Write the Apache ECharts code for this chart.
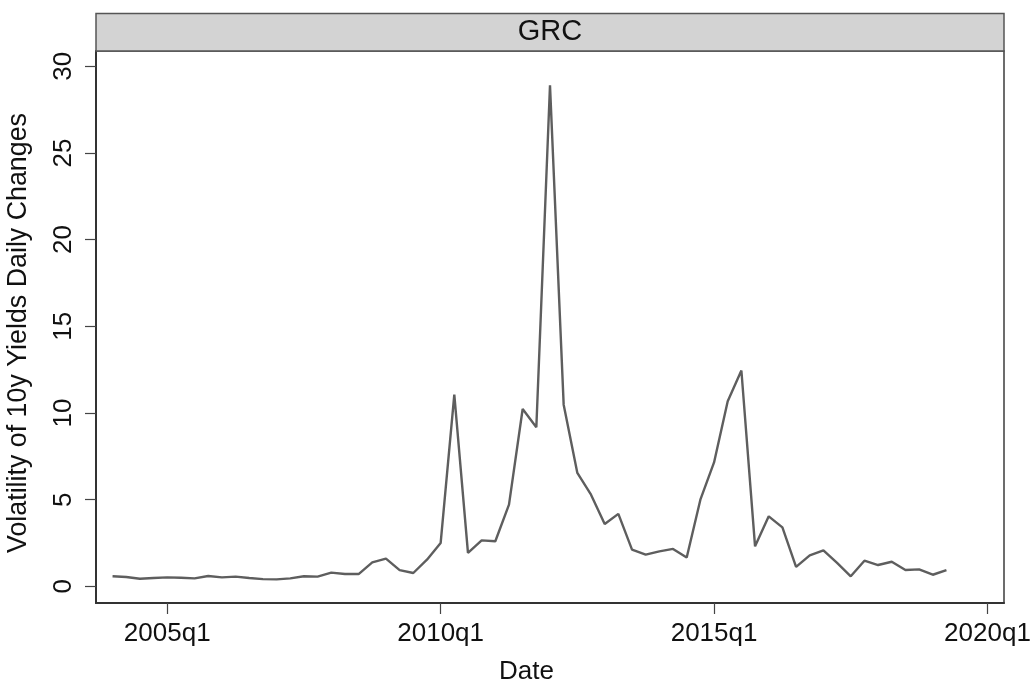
<!DOCTYPE html>
<html>
<head>
<meta charset="utf-8">
<style>
  html, body { margin: 0; padding: 0; background: #ffffff; }
  #chart { width: 1032px; height: 682px; }
</style>
<script src="https://cdn.jsdelivr.net/npm/echarts@6/dist/echarts.min.js"></script>
</head>
<body>
<div id="chart"></div>
<script>
// Quarterly periods (Stata-style labels)
const periods = [
  '2004q1','2004q2','2004q3','2004q4','2005q1','2005q2','2005q3','2005q4',
  '2006q1','2006q2','2006q3','2006q4','2007q1','2007q2','2007q3','2007q4',
  '2008q1','2008q2','2008q3','2008q4','2009q1','2009q2','2009q3','2009q4',
  '2010q1','2010q2','2010q3','2010q4','2011q1','2011q2','2011q3','2011q4',
  '2012q1','2012q2','2012q3','2012q4','2013q1','2013q2','2013q3','2013q4',
  '2014q1','2014q2','2014q3','2014q4','2015q1','2015q2','2015q3','2015q4',
  '2016q1','2016q2','2016q3','2016q4','2017q1','2017q2','2017q3','2017q4',
  '2018q1','2018q2','2018q3','2018q4','2019q1','2019q2'
];

// Volatility of 10y yields daily changes, Greece
const volatility = [
  0.58, 0.54, 0.44, 0.48, 0.52, 0.50, 0.46, 0.60,
  0.52, 0.56, 0.48, 0.42, 0.40, 0.46, 0.58, 0.56,
  0.79, 0.71, 0.71, 1.38, 1.60, 0.94, 0.77, 1.54,
  2.50, 11.06, 1.93, 2.65, 2.60, 4.71, 10.23, 9.18,
  28.90, 10.48, 6.54, 5.29, 3.60, 4.18, 2.12, 1.83,
  2.02, 2.16, 1.66, 5.00, 7.15, 10.68, 12.45, 2.31,
  4.04, 3.40, 1.12, 1.79, 2.08, 1.35, 0.58, 1.48,
  1.23, 1.42, 0.94, 0.98, 0.67, 0.94
];

// Axis ticks
const xTicks = ['2005q1', '2010q1', '2015q1', '2020q1'];
const yTicks = [0, 5, 10, 15, 20, 25, 30];

const panelTitle = 'GRC';
const xTitle = 'Date';
const yTitle = 'Volatility of 10y Yields Daily Changes';

// Stata quarterly date: quarters since 1960q1
function toTq(s) {
  const m = s.match(/^(\d{4})q(\d)$/);
  return (parseInt(m[1], 10) - 1960) * 4 + (parseInt(m[2], 10) - 1);
}
function fromTq(v) {
  const y = 1960 + Math.floor(v / 4);
  const q = ((v % 4) + 4) % 4 + 1;
  return y + 'q' + q;
}

const seriesData = periods.map((p, i) => [toTq(p), volatility[i]]);
const xTickValues = xTicks.map(toTq);

const FONT = '"Liberation Sans", Arial, sans-serif';
const GRID = { left: 96, right: 28, top: 51, bottom: 79 };
const W = 1032;

const chart = echarts.init(document.getElementById('chart'), null, { renderer: 'canvas' });

chart.setOption({
  animation: false,
  backgroundColor: '#ffffff',
  textStyle: { fontFamily: FONT },
  grid: {
    left: GRID.left, right: GRID.right, top: GRID.top, bottom: GRID.bottom,
    outerBoundsMode: 'none',
    containLabel: false,
    show: true, borderColor: '#3c3c3c', borderWidth: 1.5, backgroundColor: '#ffffff'
  },
  graphic: [
    {
      type: 'rect',
      shape: { x: GRID.left, y: 13.5, width: W - GRID.left - GRID.right, height: GRID.top - 13.5 },
      style: { fill: '#d3d3d3', stroke: '#555555', lineWidth: 1.5 },
      z: 10
    },
    {
      type: 'text',
      x: GRID.left + (W - GRID.left - GRID.right) / 2,
      y: 32,
      style: {
        text: panelTitle, fontFamily: FONT, fontSize: 29, fill: '#111111',
        align: 'center', verticalAlign: 'middle'
      },
      z: 11
    }
  ],
  xAxis: {
    type: 'value',
    min: 174.79,
    max: 241.21,
    splitLine: { show: false },
    axisLine: { show: true, onZero: false, lineStyle: { color: '#333333', width: 2 } },
    axisTick: {
      show: true, length: 11, customValues: xTickValues,
      lineStyle: { color: '#444444', width: 1.2 }
    },
    axisLabel: {
      customValues: xTickValues,
      formatter: v => fromTq(Math.round(v)),
      fontSize: 26, color: '#111111', margin: 18, fontFamily: FONT
    },
    name: xTitle,
    nameLocation: 'middle',
    nameGap: 56,
    nameTextStyle: { fontSize: 26, color: '#111111', fontFamily: FONT, padding: [0, 47, 0, 0] }
  },
  yAxis: {
    type: 'value',
    min: -0.96,
    max: 30.88,
    splitLine: { show: false },
    axisLine: { show: true, onZero: false, lineStyle: { color: '#333333', width: 2 } },
    axisTick: {
      show: true, length: 11, customValues: yTicks,
      lineStyle: { color: '#444444', width: 1.2 }
    },
    axisLabel: {
      customValues: yTicks,
      rotate: 90,
      fontSize: 26, color: '#111111', margin: 19, fontFamily: FONT
    },
    name: yTitle,
    nameLocation: 'middle',
    nameGap: 64,
    nameRotate: 90,
    nameTextStyle: { fontSize: 26.8, color: '#111111', fontFamily: FONT, padding: [0, 12, 0, 0] }
  },
  series: [
    {
      type: 'line',
      data: seriesData,
      showSymbol: false,
      symbol: 'none',
      lineStyle: { color: '#5e5e5e', width: 2.4 },
      z: 5
    }
  ]
});
</script>
</body>
</html>
